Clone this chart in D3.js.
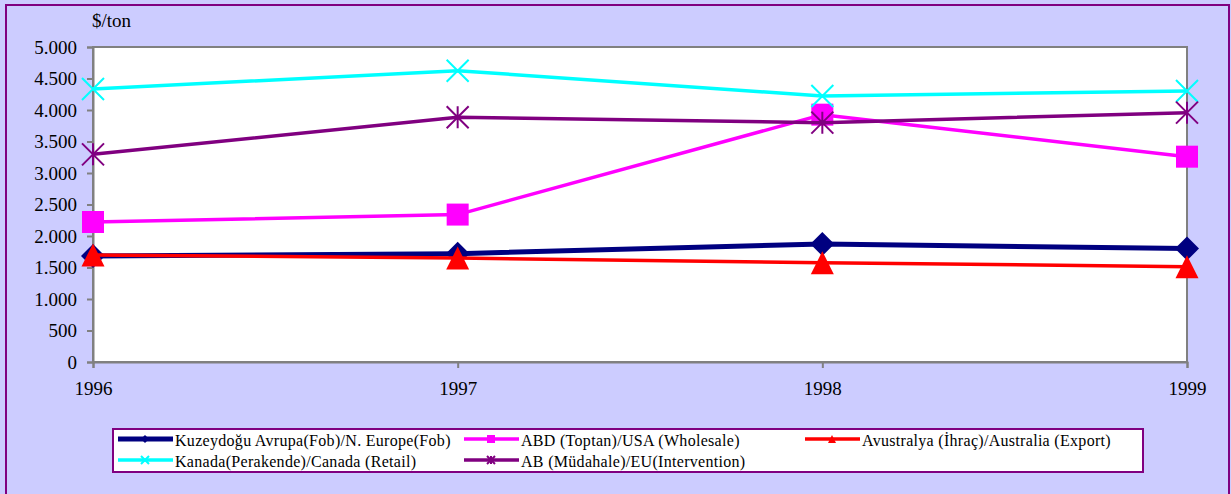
<!DOCTYPE html>
<html>
<head>
<meta charset="utf-8">
<script src="https://cdn.jsdelivr.net/npm/d3@7"></script>
<style>
  html, body { margin: 0; padding: 0; background: #ccccff; }
  svg { display: block; }
  text { font-family: "Liberation Serif", "Times New Roman", serif; fill: #000; }
</style>
</head>
<body>
<svg id="chart"></svg>
<script>
// Chart data
const years = [1996, 1997, 1998, 1999];
const yTicks = [0, 500, 1000, 1500, 2000, 2500, 3000, 3500, 4000, 4500, 5000];
const nEurope = [1683, 1720, 1873, 1800];
const usa = [2222, 2340, 3926, 3259];
const australia = [1700, 1650, 1577, 1513];
const canada = [4333, 4624, 4222, 4302];
const eu = [3296, 3884, 3799, 3958];
const seriesNames = [
  "Kuzeydoğu Avrupa(Fob)/N. Europe(Fob)",
  "ABD (Toptan)/USA (Wholesale)",
  "Avustralya (İhraç)/Australia (Export)",
  "Kanada(Perakende)/Canada (Retail)",
  "AB (Müdahale)/EU(Intervention)"
];

const W = 1231, H = 494;
const plot = { left: 93, right: 1187, top: 47, bottom: 362 };

const series = [
  { name: seriesNames[0], values: nEurope, color: "#000080", width: 5, marker: "diamond" },
  { name: seriesNames[1], values: usa, color: "#ff00ff", width: 3.5, marker: "square" },
  { name: seriesNames[2], values: australia, color: "#ff0000", width: 3.5, marker: "triangle" },
  { name: seriesNames[3], values: canada, color: "#00ffff", width: 3.5, marker: "x" },
  { name: seriesNames[4], values: eu, color: "#800080", width: 3.5, marker: "star" }
];

const svg = d3.select("#chart").attr("width", W).attr("height", H);

// outer frame
svg.append("rect")
  .attr("x", 6).attr("y", 5).attr("width", 1223).attr("height", 500)
  .attr("fill", "#ccccff").attr("stroke", "#800080").attr("stroke-width", 2);

const x = d3.scalePoint().domain(years).range([plot.left, plot.right]);
const y = d3.scaleLinear().domain([0, 5000]).range([plot.bottom, plot.top]);

const locale = d3.formatLocale({ decimal: ",", thousands: ".", grouping: [3], currency: ["$", ""] });
const fmt = locale.format(",d");

// plot area
svg.append("rect")
  .attr("x", plot.left).attr("y", plot.top)
  .attr("width", plot.right - plot.left).attr("height", plot.bottom - plot.top)
  .attr("fill", "#fff").attr("stroke", "#808080").attr("stroke-width", 2);

// axes
const yAxis = svg.append("g")
  .attr("transform", `translate(${plot.left},0)`)
  .call(d3.axisLeft(y).tickValues(yTicks).tickFormat(fmt).tickSize(6).tickPadding(10));
const xAxis = svg.append("g")
  .attr("transform", `translate(0,${plot.bottom})`)
  .call(d3.axisBottom(x).tickSize(6).tickPadding(14));

[yAxis, xAxis].forEach(g => {
  g.select(".domain").attr("stroke", "#808080").attr("stroke-width", 2);
  g.selectAll(".tick line").attr("stroke", "#808080").attr("stroke-width", 2);
  g.selectAll(".tick text")
    .style("font-family", '"Liberation Serif", serif')
    .style("font-size", "19px").attr("fill", "#000");
});

svg.append("text")
  .attr("x", 92).attr("y", 27)
  .style("font-size", "19px")
  .text("$/ton");

// marker shapes
function markerPath(type, s) {
  const h = s / 2;
  switch (type) {
    case "diamond": return `M0,${-h}L${h},0L0,${h}L${-h},0Z`;
    case "square": return `M${-h},${-h}H${h}V${h}H${-h}Z`;
    case "triangle": return `M0,${-h}L${h},${h}L${-h},${h}Z`;
    case "x": return `M${-h},${-h}L${h},${h}M${h},${-h}L${-h},${h}`;
    case "star": return `M${-h},${-h}L${h},${h}M${h},${-h}L${-h},${h}M0,${-h}V${h}`;
  }
}
function drawMarker(g, type, color, s) {
  const filled = type === "diamond" || type === "square" || type === "triangle";
  return g.append("path")
    .attr("d", markerPath(type, s))
    .attr("fill", filled ? color : "none")
    .attr("stroke", color)
    .attr("stroke-width", filled ? 0 : 2);
}

const line = d3.line().x((d, i) => x(years[i])).y(d => y(d));

const seriesG = svg.append("g");
series.forEach(s => {
  const g = seriesG.append("g");
  g.append("path")
    .attr("d", line(s.values))
    .attr("fill", "none")
    .attr("stroke", s.color)
    .attr("stroke-width", s.width)
    .attr("stroke-linejoin", "round");
  s.values.forEach((v, i) => {
    const size = s.marker === "diamond" ? 24 : s.marker === "triangle" ? 23 : 22;
    const m = g.append("g").attr("transform", `translate(${x(years[i])},${y(v)})`);
    drawMarker(m, s.marker, s.color, size);
  });
});

// legend
const legend = svg.append("g");
legend.append("rect")
  .attr("x", 113).attr("y", 429).attr("width", 1030).attr("height", 43)
  .attr("fill", "#fff").attr("stroke", "#800080").attr("stroke-width", 2);

const legendPos = [
  { x: 118, y: 439 }, { x: 464, y: 439 }, { x: 805, y: 439 },
  { x: 118, y: 460 }, { x: 464, y: 460 }
];
series.forEach((s, i) => {
  const p = legendPos[i];
  const g = legend.append("g").attr("transform", `translate(${p.x},${p.y})`);
  g.append("line")
    .attr("x1", 0).attr("x2", 55).attr("y1", 0).attr("y2", 0)
    .attr("stroke", s.color).attr("stroke-width", s.width);
  const m = g.append("g").attr("transform", "translate(27,0)");
  drawMarker(m, s.marker, s.color, 8);
  g.append("text")
    .attr("x", 57).attr("y", 6.5)
    .style("font-size", "16px")
    .style("letter-spacing", "0.3px")
    .text(s.name);
});
</script>
</body>
</html>
